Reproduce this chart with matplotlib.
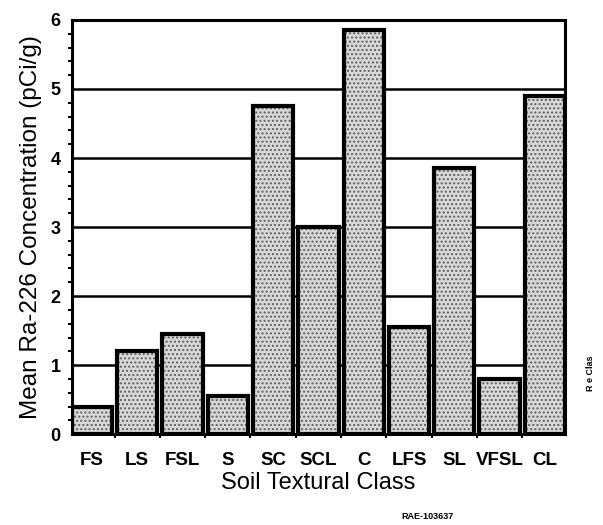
import numpy as np
import matplotlib
matplotlib.use("Agg")
import matplotlib.pyplot as plt
from matplotlib.ticker import MultipleLocator, FixedLocator

# --- data ---
classes = ["FS", "LS", "FSL", "S", "SC", "SCL", "C", "LFS", "SL", "VFSL", "CL"]
ra226 = [0.4, 1.2, 1.45, 0.55, 4.75, 3.0, 5.85, 1.55, 3.85, 0.8, 4.9]

plt.rcParams["font.family"] = ["Liberation Sans", "DejaVu Sans"]
plt.rcParams["hatch.linewidth"] = 1.0

fig = plt.figure(figsize=(6.03, 5.25), dpi=100)
ax = fig.add_axes([0.119, 0.173, 0.818, 0.789])

x = np.arange(len(classes))
width = 0.89

# stippled fill, then black outline on top
ax.bar(x, ra226, width=width, color="#d8d8d8", edgecolor="#606060",
       hatch="....", linewidth=0, zorder=2)
ax.bar(x, ra226, width=width, fill=False, edgecolor="black",
       linewidth=3, zorder=3)

ax.set_xlim(-width / 2, len(classes) - 1 + width / 2)
ax.set_ylim(0, 6)

# horizontal grid behind bars
ax.yaxis.set_major_locator(MultipleLocator(1))
ax.yaxis.set_minor_locator(MultipleLocator(0.2))
ax.grid(axis="y", color="black", linewidth=1.8, zorder=1)
ax.set_axisbelow(True)

for s in ax.spines.values():
    s.set_linewidth(2.2)

ax.set_xticks(x)
ax.set_xticklabels(classes, fontsize=13.5, fontweight="bold")
ax.xaxis.set_minor_locator(FixedLocator(np.arange(len(classes) + 1) - 0.5))
ax.tick_params(axis="x", which="major", length=0, pad=13)
ax.tick_params(axis="x", which="minor", length=3, width=1.5, direction="out")
ax.tick_params(axis="y", which="major", length=0, pad=8, labelsize=13)
ax.tick_params(axis="y", which="minor", length=3, width=1.5, direction="out")
for lab in ax.get_yticklabels():
    lab.set_fontweight("bold")

ax.set_xlabel("Soil Textural Class", fontsize=17, labelpad=2)
ax.set_ylabel("Mean Ra-226 Concentration (pCi/g)", fontsize=17.5, labelpad=6)

fig.text(0.665, 0.012, "RAE-103637", fontsize=6.5, fontweight="bold")
fig.text(0.98, 0.255, "R e Clas", fontsize=6.5, fontweight="bold",
         rotation=90, ha="center", va="bottom")

fig.savefig("out.png", dpi=100)
